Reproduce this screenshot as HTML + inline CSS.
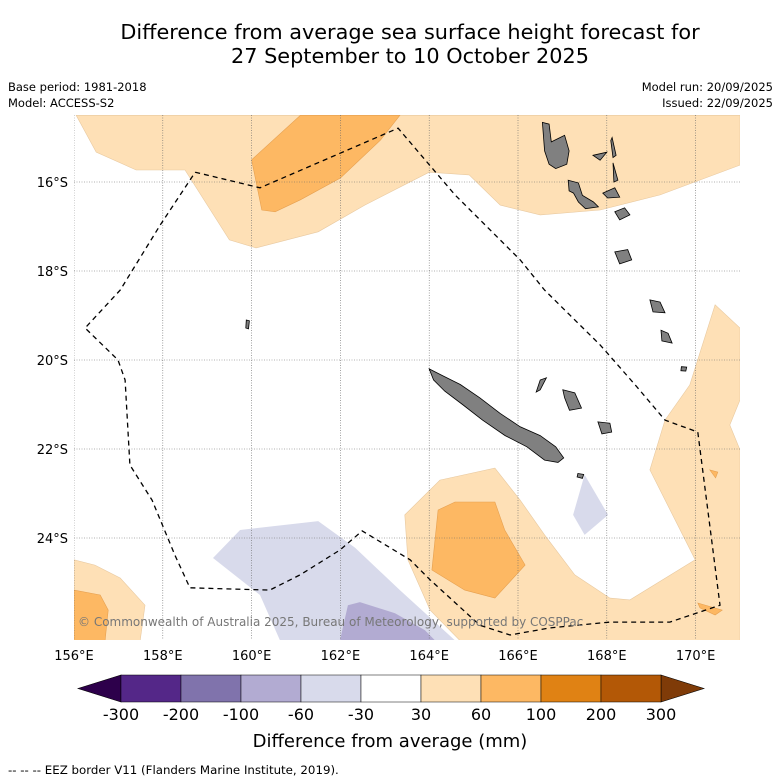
<!DOCTYPE html>
<html><head><meta charset="utf-8">
<style>
html,body{margin:0;padding:0;background:#fff;}
svg{display:block;font-family:"DejaVu Sans","Liberation Sans",sans-serif;}
</style></head>
<body>
<svg id="chart" width="781" height="781" viewBox="0 0 781 781">
<text x="410" y="39" font-size="20.8" text-anchor="middle">Difference from average sea surface height forecast for</text>
<text x="410" y="63" font-size="20.8" text-anchor="middle">27 September to 10 October 2025</text>
<text x="8" y="91" font-size="11.5">Base period: 1981-2018</text>
<text x="8" y="107" font-size="11.5">Model: ACCESS-S2</text>
<text x="773" y="91" font-size="11.5" text-anchor="end">Model run: 20/09/2025</text>
<text x="773" y="107" font-size="11.5" text-anchor="end">Issued: 22/09/2025</text>
<defs><clipPath id="mapclip"><rect x="74" y="115" width="666" height="525"/></clipPath></defs>
<g id="map" clip-path="url(#mapclip)"></g>
<g id="axes"></g>
<g id="cbar"></g>
<text x="390" y="747" font-size="18" text-anchor="middle">Difference from average (mm)</text>
<text x="8" y="774" font-size="11.8">--  --  -- EEZ border V11 (Flanders Marine Institute, 2019).</text>
</svg>
<script>
const NS="http://www.w3.org/2000/svg";
const lonMin=156, lonMax=171, latTop=14.5, latBot=26.3;
const lonTicks=[156,158,160,162,164,166,168,170];
const latTicks=[16,18,20,22,24];
const cbLevels=[-300,-200,-100,-60,-30,30,60,100,200,300];
const cbColors=["#542788","#8073ac","#b2abd2","#d8daeb","#ffffff","#fee0b6","#fdb863","#e08214","#b35806"];
const cbLow="#2d004b", cbHigh="#7f3b08";
// contour polygons [lon, lat south]
const lightOrangeTop=[[156.05,14.5],[156.5,15.33],[157.4,15.73],[158.5,15.73],[159.5,17.3],[160.1,17.48],[161.5,17.12],[162.55,16.52],[164.0,15.78],[164.9,15.84],[165.6,16.52],[166.5,16.74],[167.85,16.63],[169.2,16.29],[171,15.62],[171,14.5]];
const orangeTop=[[160.0,15.5],[160.23,16.63],[160.53,16.67],[161.1,16.4],[162.0,15.91],[162.9,15.06],[163.34,14.5],[161.1,14.5]];
const lightOrangeSE=[[163.45,23.48],[164.24,22.7],[165.48,22.43],[166.05,23.15],[166.6,23.93],[167.28,24.83],[168.07,25.35],[168.52,25.39],[169.99,24.49],[168.97,22.47],[169.31,21.35],[169.87,20.56],[170.44,18.76],[171,19.28],[171,20.9],[170.77,21.46],[171,22.02],[171,26.3],[164.69,26.3],[164.02,25.62],[163.52,24.49]];
const orangeSE=[[164.2,23.37],[164.58,23.19],[165.48,23.19],[165.7,23.82],[166.16,24.61],[165.48,25.35],[164.8,25.17],[164.06,24.72]];
const orangeSE2=[[170.05,25.46],[170.6,25.62],[170.44,25.73],[170.1,25.57]];
const orangeSE3=[[170.32,22.47],[170.5,22.52],[170.45,22.65]];
const lightOrangeSW=[[156,24.49],[156.47,24.61],[157.04,24.9],[157.6,25.51],[157.49,26.3],[156,26.3]];
const orangeSW=[[156,25.17],[156.59,25.28],[156.77,25.62],[156.7,26.3],[156,26.3]];
const lightPurple=[[159.13,24.45],[159.74,23.82],[161.5,23.62],[162.33,24.22],[163.34,25.17],[164.58,26.3],[160.64,26.3],[160.19,25.28]];
const midPurple=[[162.17,25.51],[162.44,25.44],[163.23,25.69],[163.9,26.07],[164.13,26.3],[161.99,26.3]];
const lightPurple2=[[167.5,22.58],[168.03,23.48],[167.5,23.93],[167.24,23.48]];
const eez=[[158.73,15.78],[160.19,16.13],[163.3,14.79],[164.58,16.29],[166.05,17.75],[166.6,18.43],[167.17,18.99],[167.85,19.66],[168.64,20.56],[169.31,21.35],[170.05,21.62],[170.55,25.51],[169.42,25.89],[168.07,25.89],[166.72,26.02],[165.82,26.18],[165.14,25.96],[164.02,24.94],[163.57,24.49],[162.49,23.84],[161.99,24.27],[161.09,24.83],[160.41,25.17],[158.61,25.12],[158.27,24.38],[157.76,23.15],[157.26,22.36],[157.15,20.45],[156.99,20.0],[156.25,19.28],[157.04,18.43],[157.94,16.97],[158.73,15.78]];
const islands=[
 [[164.0,20.2],[164.3,20.35],[164.7,20.55],[165.14,20.85],[165.6,21.2],[166.05,21.5],[166.5,21.7],[166.85,21.95],[167.03,22.2],[166.9,22.3],[166.6,22.25],[166.2,21.95],[165.71,21.7],[165.2,21.35],[164.75,21.0],[164.35,20.7],[164.1,20.45]],
 [[166.55,14.66],[166.7,14.7],[166.75,15.1],[166.95,15.0],[167.05,14.95],[167.15,15.3],[167.1,15.6],[166.85,15.7],[166.7,15.6],[166.6,15.3]],
 [[167.13,15.96],[167.36,16.02],[167.45,16.3],[167.7,16.45],[167.81,16.56],[167.52,16.6],[167.36,16.45],[167.25,16.25],[167.15,16.2]],
 [[167.91,16.25],[168.18,16.13],[168.29,16.34],[168.02,16.36]],
 [[168.12,15.0],[168.21,15.4],[168.14,15.45],[168.09,15.07]],
 [[168.14,15.57],[168.25,15.96],[168.16,16.0]],
 [[167.69,15.4],[168.0,15.33],[167.85,15.51]],
 [[168.18,16.67],[168.4,16.58],[168.52,16.74],[168.29,16.85]],
 [[168.18,17.57],[168.47,17.52],[168.56,17.75],[168.29,17.84]],
 [[168.97,18.65],[169.2,18.7],[169.31,18.94],[169.04,18.92]],
 [[169.22,19.33],[169.38,19.4],[169.47,19.62],[169.24,19.57]],
 [[166.5,20.45],[166.64,20.4],[166.5,20.67],[166.41,20.72]],
 [[167.01,20.67],[167.28,20.74],[167.43,21.08],[167.16,21.13],[167.05,20.85]],
 [[167.8,21.39],[168.07,21.42],[168.11,21.62],[167.89,21.66]],
 [[169.68,20.15],[169.8,20.16],[169.78,20.25],[169.67,20.24]],
 [[159.88,19.1],[159.95,19.12],[159.93,19.3],[159.87,19.28]],
 [[167.35,22.55],[167.48,22.57],[167.45,22.66],[167.33,22.63]]
];
const X=lon=>74+(lon-lonMin)*44.4;
const Y=lat=>182+(lat-16)*44.5;
const pts=a=>a.map(p=>X(p[0]).toFixed(1)+","+Y(p[1]).toFixed(1)).join(" ");
const map=document.getElementById("map");
function poly(parent,a,fill,stroke,name,sw){
 const p=document.createElementNS(NS,"polygon");
 p.setAttribute("points",pts(a));p.setAttribute("fill",fill);
 p.setAttribute("stroke",stroke||"none");p.setAttribute("stroke-width",sw||0.6);
 
 
 parent.appendChild(p);return p;
}
poly(map,lightOrangeTop,"#fee0b6","#e8c9a0","contour-30-60-north");
poly(map,orangeTop,"#fdb863","#e6a050","contour-60-100-north");
poly(map,lightOrangeSE,"#fee0b6","#e8c9a0","contour-30-60-southeast");
poly(map,orangeSE,"#fdb863","#e6a050","contour-60-100-southeast");
poly(map,orangeSE2,"#fdb863","#e6a050","contour-60-100-east");
poly(map,orangeSE3,"#fdb863","#e6a050","contour-60-100-east-small");
poly(map,lightOrangeSW,"#fee0b6","#e8c9a0","contour-30-60-southwest");
poly(map,orangeSW,"#fdb863","#e6a050","contour-60-100-southwest");
poly(map,lightPurple,"#d8daeb","none","contour-neg30-neg60");
poly(map,midPurple,"#b2abd2","none","contour-neg60-neg100");
poly(map,lightPurple2,"#d8daeb","none","contour-neg30-neg60-east");
latTicks.forEach(v=>{const l=document.createElementNS(NS,"line");l.setAttribute("x1",74);l.setAttribute("x2",740);l.setAttribute("y1",Y(v));l.setAttribute("y2",Y(v));l.setAttribute("stroke","#666");l.setAttribute("stroke-width",0.6);l.setAttribute("stroke-dasharray","1,1.5");
 
 
 map.appendChild(l);});
lonTicks.forEach(v=>{const l=document.createElementNS(NS,"line");l.setAttribute("x1",X(v));l.setAttribute("x2",X(v));l.setAttribute("y1",115);l.setAttribute("y2",640);l.setAttribute("stroke","#666");l.setAttribute("stroke-width",0.6);l.setAttribute("stroke-dasharray","1,1.5");
 
 
 map.appendChild(l);});
islands.forEach(a=>poly(map,a,"#808080","#000","island",0.8));
const e=document.createElementNS(NS,"polyline");
e.setAttribute("points",pts(eez));e.setAttribute("fill","none");e.setAttribute("stroke","#000");e.setAttribute("stroke-width",1.3);e.setAttribute("stroke-dasharray","5,4");


map.appendChild(e);
const cr=document.createElementNS(NS,"text");
cr.setAttribute("x",78);cr.setAttribute("y",626);cr.setAttribute("font-size",12);cr.setAttribute("fill","#777");
cr.textContent="© Commonwealth of Australia 2025, Bureau of Meteorology, supported by COSPPac";


map.appendChild(cr);
const axes=document.getElementById("axes");
lonTicks.forEach(v=>{const t=document.createElementNS(NS,"text");t.setAttribute("x",X(v));t.setAttribute("y",660);t.setAttribute("font-size",13);t.setAttribute("text-anchor","middle");t.textContent=v+"°E";
 
 
 axes.appendChild(t);});
latTicks.forEach(v=>{const t=document.createElementNS(NS,"text");t.setAttribute("x",68);t.setAttribute("y",Y(v)+5);t.setAttribute("font-size",13);t.setAttribute("text-anchor","end");t.textContent=v+"°S";
 
 
 axes.appendChild(t);});
const cb=document.getElementById("cbar");
const cx0=121, cw=60, cy0=675, ch=27;
const CX=i=>cx0+i*cw;
poly(cb,[[0,0]],cbLow,"#000","colorbar-low-extend").setAttribute("points",`${CX(0)},${cy0} 78,${cy0+ch/2} ${CX(0)},${cy0+ch}`);
poly(cb,[[0,0]],cbHigh,"#000","colorbar-high-extend").setAttribute("points",`${CX(cbColors.length)},${cy0} ${CX(cbColors.length)+43},${cy0+ch/2} ${CX(cbColors.length)},${cy0+ch}`);
cbColors.forEach((c,i)=>{const r=document.createElementNS(NS,"rect");r.setAttribute("x",CX(i));r.setAttribute("y",cy0);r.setAttribute("width",cw);r.setAttribute("height",ch);r.setAttribute("fill",c);r.setAttribute("stroke","#000");r.setAttribute("stroke-width",0.5);
 
 
 cb.appendChild(r);});
cbLevels.forEach((v,i)=>{const t=document.createElementNS(NS,"text");t.setAttribute("x",CX(i));t.setAttribute("y",720);t.setAttribute("font-size",16);t.setAttribute("text-anchor","middle");t.textContent=v;
 
 
 cb.appendChild(t);});
</script>
</body></html>
